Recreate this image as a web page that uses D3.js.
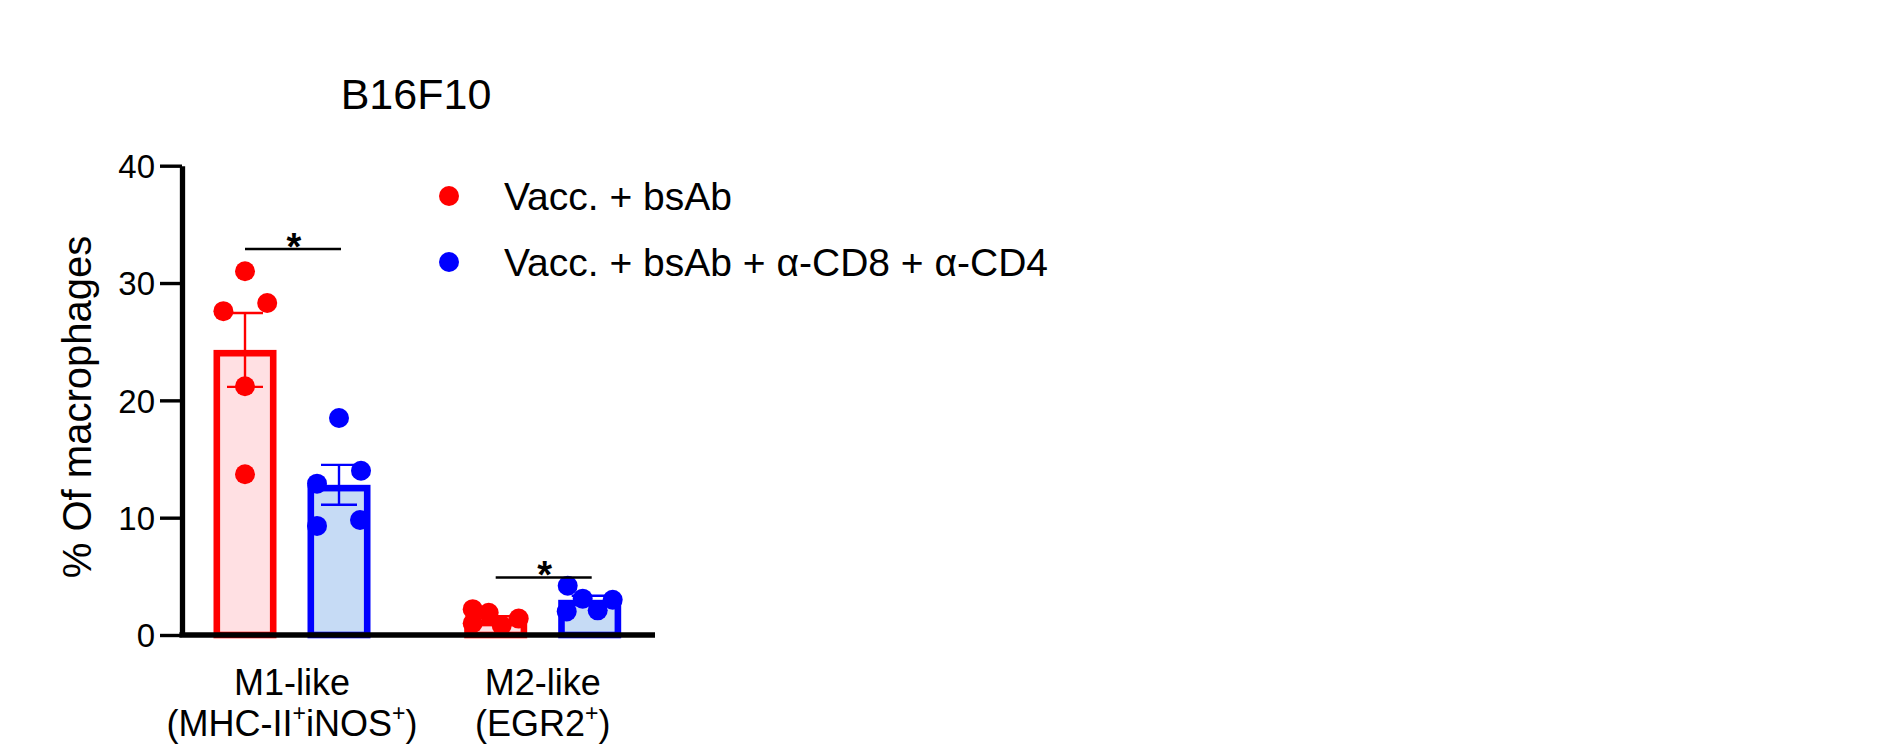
<!DOCTYPE html>
<html>
<head>
<meta charset="utf-8">
<script src="https://cdn.jsdelivr.net/npm/d3@7"></script>
<style>
  body { margin: 0; background: #fff; }
  svg { display: block; }
  text { font-family: "Liberation Sans", Arial, sans-serif; fill: #000; }
</style>
</head>
<body>
<svg id="chart" width="1885" height="746"></svg>
<script>
// data
const groups = ["M1", "M2"];
const groupLabels = [["M1-like", "(MHC-II^+^iNOS^+^)"], ["M2-like", "(EGR2^+^)"]];
const series = ["Vacc. + bsAb", "Vacc. + bsAb + α-CD8 + α-CD4"];
const meanRed = [24.3, 1.3];
const semRed = [3.15, 0.3];
const meanBlue = [12.8, 3.0];
const semBlue = [1.7, 0.35];
const dotsRed = [[31.0, 27.6, 28.3, 21.2, 13.7], [2.2, 1.9, 0.8, 1.4, 1.0]];
const dotsBlue = [[18.5, 14.0, 12.9, 9.3, 9.8], [4.2, 3.1, 2.1, 3.0, 2.0]];
const yTicks = [0, 10, 20, 30, 40];
const sigLevel = [32.9, 4.9];
const sigText = ["*", "*"];

// look
const colors = ["#ff0000", "#0000ff"];
const fills = ["#ffe0e3", "#c6dbf5"];
// horizontal scatter of the dots, px from bar centre
const spread = [
  [[0, -21.6, 22.2, 0, 0], [-23, -7, 6, 23, -23]],
  [[0, 22, -22, -22, 21], [-22, -7, 8, 23, -23]]
];

const svg = d3.select("#chart");
const baseY = 635, topY = 165.7, leftX = 182, axisEnd = 655;
const barW = 63, barStroke = 6.6, dotR = 10;

const y = d3.scaleLinear().domain([0, 40]).range([baseY, topY]);
const x0 = d3.scalePoint().domain(groups).range([leftX, 652.7]).padding(0.4388);
const x1 = d3.scalePoint().domain(d3.range(series.length)).range([-47, 47]);

const means = [meanRed, meanBlue], sems = [semRed, semBlue], dots = [dotsRed, dotsBlue];
const rows = [];
series.forEach((s, si) => groups.forEach((g, gi) => {
  rows.push({ si, gi, cx: x0(g) + x1(si), mean: means[si][gi], sem: sems[si][gi], pts: dots[si][gi] });
}));

// bars, stroke kept inside the value
svg.append("g").selectAll("rect").data(rows).join("rect")
  .attr("x", d => d.cx - barW / 2 + barStroke / 2)
  .attr("y", d => y(d.mean) + barStroke / 2)
  .attr("width", barW - barStroke)
  .attr("height", d => y(0) - y(d.mean) - barStroke / 2)
  .attr("fill", d => fills[d.si])
  .attr("stroke", d => colors[d.si])
  .attr("stroke-width", barStroke);

// error bars (mean ± SEM)
const eb = svg.append("g").selectAll("g").data(rows).join("g")
  .attr("stroke", d => colors[d.si]).attr("stroke-width", 2.4);
eb.append("line")
  .attr("x1", d => d.cx).attr("x2", d => d.cx)
  .attr("y1", d => y(d.mean - d.sem)).attr("y2", d => y(d.mean + d.sem));
[1, -1].forEach(sign => {
  eb.append("line")
    .attr("x1", d => d.cx - 18).attr("x2", d => d.cx + 18)
    .attr("y1", d => y(d.mean + sign * d.sem)).attr("y2", d => y(d.mean + sign * d.sem));
});

// individual mice
svg.append("g").selectAll("circle")
  .data(rows.flatMap(d => d.pts.map((v, i) => ({ si: d.si, x: d.cx + spread[d.si][d.gi][i], v }))))
  .join("circle")
  .attr("cx", d => d.x).attr("cy", d => y(d.v)).attr("r", dotR)
  .attr("fill", d => colors[d.si]);

// significance bars
groups.forEach((g, gi) => {
  const xa = x0(g) + x1(0), xb = x0(g) + x1(1), ly = y(sigLevel[gi]);
  svg.append("line").attr("x1", xa).attr("x2", xb + 2).attr("y1", ly).attr("y2", ly)
    .attr("stroke", "#000").attr("stroke-width", 2.4);
  svg.append("text").attr("x", (xa + xb) / 2 + 2).attr("y", ly - 11 + 0.575 * 38)
    .attr("text-anchor", "middle").attr("font-size", 38).attr("font-weight", "bold")
    .text(sigText[gi]);
});

// y axis
const yAxis = svg.append("g").attr("transform", `translate(${leftX},0)`)
  .call(d3.axisLeft(y).tickValues(yTicks).tickSize(22).tickSizeOuter(0).tickPadding(5));
yAxis.select(".domain").attr("stroke-width", 5.3);
yAxis.selectAll(".tick line").attr("stroke-width", 3.4);
yAxis.selectAll(".tick text").attr("font-size", 33).attr("font-family", null).attr("dy", "0.36em");

// x axis line
svg.append("line").attr("x1", leftX - 2.6).attr("x2", axisEnd).attr("y1", baseY).attr("y2", baseY)
  .attr("stroke", "#000").attr("stroke-width", 5.3);

// category labels with superscripts marked by ^
groupLabels.forEach((lines, gi) => {
  lines.forEach((ln, li) => {
    const t = svg.append("text").attr("x", x0(groups[gi])).attr("y", 695 + li * 41)
      .attr("text-anchor", "middle").attr("font-size", 36);
    let lift = 0;
    ln.split("^").forEach((part, pi) => {
      if (!part) return;
      const sup = pi % 2 === 1;
      const shift = (sup ? -15 : 0) - lift;
      lift = sup ? -15 : 0;
      const ts = t.append("tspan").attr("dy", shift).text(part);
      if (sup) ts.attr("font-size", 23);
    });
  });
});

// y label
svg.append("text").attr("transform", "rotate(-90)")
  .attr("x", -407).attr("y", 91).attr("text-anchor", "middle").attr("font-size", 40)
  .text("% Of macrophages");

// title
svg.append("text").attr("x", 416).attr("y", 109).attr("text-anchor", "middle")
  .attr("font-size", 43).text("B16F10");

// legend
const lg = svg.append("g").selectAll("g").data(series).join("g")
  .attr("transform", (d, i) => `translate(449,${196 + i * 66})`);
lg.append("circle").attr("r", dotR).attr("fill", (d, i) => colors[i]);
lg.append("text").attr("x", 55).attr("y", 14).attr("font-size", 39).text(d => d);
</script>
</body>
</html>
